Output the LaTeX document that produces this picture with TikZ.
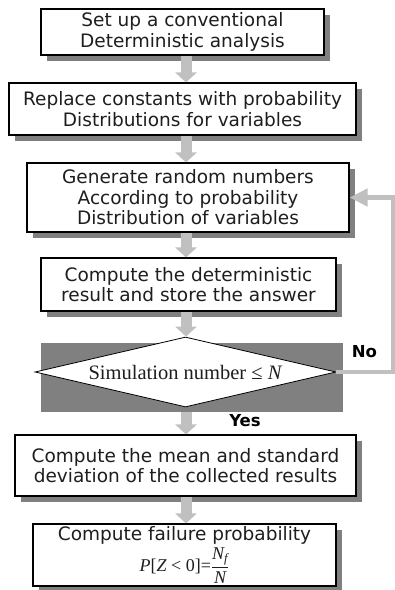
\documentclass[tikz,border=0pt]{standalone}
\usepackage{fontspec}
\usepackage{amsmath}
\setmainfont{DejaVu Sans}
\newfontfamily\tms{Liberation Serif}
\usetikzlibrary{shapes.geometric,arrows.meta,shadows,calc}
\definecolor{shadowgray}{RGB}{128,128,128}
\definecolor{arrowgray}{RGB}{192,192,192}
\definecolor{txt}{RGB}{30,30,30}
\begin{document}
\begin{tikzpicture}[x=1pt,y=-1pt,
  box/.style={draw=black, line width=1.1pt, fill=white, inner sep=0pt, align=center, text=txt,
     font=\fontsize{18.5}{20.5}\selectfont,
     general shadow={fill=shadowgray, shadow xshift=6pt, shadow yshift=-6pt}},
  flow/.style={draw=arrowgray, line width=11pt, -{Triangle[width=21pt,length=10pt]}},
  loopline/.style={draw=arrowgray, line width=4.5pt, -{Triangle[width=17pt,length=18pt]}},
  lbl/.style={font=\fontsize{16.5}{18}\selectfont\bfseries, text=black}
]
\useasboundingbox (0,0) rectangle (395,590);
\coordinate (ax) at (186,0);

\node[box, minimum width=283pt, minimum height=46pt] (b1) at (182.5,32) {Set up a conventional\\Deterministic analysis};
\node[box, minimum width=347pt, minimum height=52pt] (b2) at (182.5,109) {Replace constants with probability\\Distributions for variables};
\node[box, minimum width=322pt, minimum height=69pt] (b3) at (188,197.5) {Generate random numbers\\According to probability\\Distribution of variables};
\node[box, minimum width=295pt, minimum height=53pt] (b4) at (188.5,284.5) {Compute the deterministic\\result and store the answer};
\node[fill=shadowgray, minimum width=302pt, minimum height=69pt, inner sep=0pt] (decbg) at (192,377.5) {};
\node[diamond, aspect=4.3, draw=black, line width=0.8pt, fill=white, minimum width=301pt, minimum height=70pt, inner sep=0pt, text=txt, font=\tms\fontsize{20.5}{22}\selectfont] (dec) at (185.5,372) {Simulation number ≤ \textit{N}};
\node[box, minimum width=341pt, minimum height=61pt] (b5) at (185.5,465.5) {Compute the mean and standard\\deviation of the collected results};
\node[box, minimum width=303pt, minimum height=62pt] (b6) at (184.5,555) {Compute failure probability\\[2pt]{\tms\fontsize{18}{20}\selectfont\itshape P\upshape[\itshape Z\upshape\ {<}\ 0]=$\dfrac{\text{\itshape N}_{\text{\itshape f}}}{\text{\itshape N}}$}};

\draw[flow] ($(b1.south -| ax)+(0,0.6)$) -- (b2.north -| ax);
\draw[flow] ($(b2.south -| ax)+(0,0.6)$) -- (b3.north -| ax);
\draw[flow] ($(b3.south -| ax)+(0,0.6)$) -- (b4.north -| ax);
\draw[flow] ($(b4.south -| ax)+(0,0.6)$) -- (dec.north -| ax);
\draw[flow] (decbg.south -| ax) -- (b5.north -| ax);
\draw[flow] ($(b5.south -| ax)+(0,0.6)$) -- (b6.north -| ax);

\draw[loopline] (dec.east) -| ($(b3.east)+(44,0)$) -- (b3.east);

\node[lbl] (no) at (364.5,352) {No};
\node[lbl] (yes) at (245,421) {Yes};
\end{tikzpicture}
\end{document}
